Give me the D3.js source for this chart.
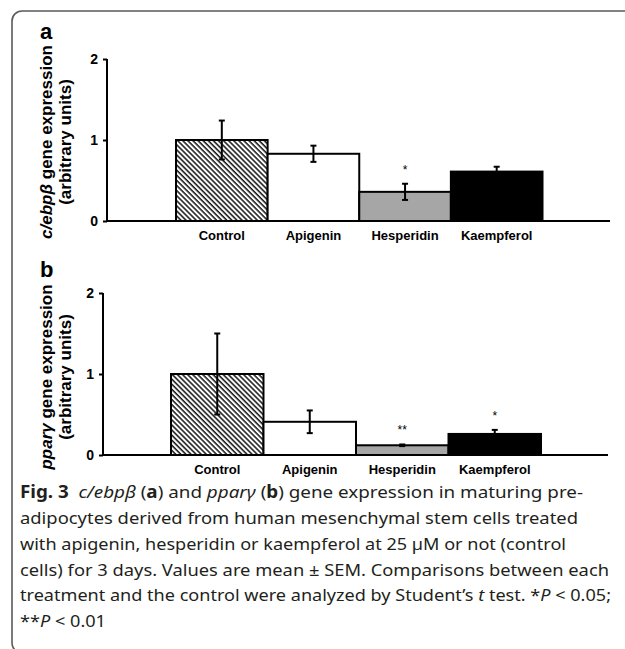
<!DOCTYPE html>
<html>
<head>
<meta charset="utf-8">
<script src="https://cdn.jsdelivr.net/npm/d3@7/dist/d3.min.js"></script>
<style>
  html, body { margin: 0; padding: 0; background: #fff; }
  svg { display: block; }
  .chart-text { font-family: "Liberation Sans", Arial, sans-serif; font-weight: bold; fill: #000; }
  .caption { font-family: "Noto Sans", "Open Sans", sans-serif; fill: #231f20; }
</style>
</head>
<body>
<svg id="fig" width="625" height="649"></svg>
<script>
// Treatments shown on the x axis
const categories = ["Control", "Apigenin", "Hesperidin", "Kaempferol"];

// Panel a: c/ebpβ expression (mean, SEM) and significance marks
const cebpMean = [1.0, 0.83, 0.36, 0.61];
const cebpSem  = [0.24, 0.10, 0.10, 0.06];
const cebpSig  = ["", "", "*", ""];

// Panel b: pparγ expression (mean, SEM) and significance marks
const pparMean = [1.0, 0.41, 0.12, 0.26];
const pparSem  = [0.50, 0.14, 0.01, 0.05];
const pparSig  = ["", "", "**", "*"];

// Y axis ticks
const yTicks = [0, 1, 2];

const svg = d3.select("#fig");

// Frame around the figure
svg.append("rect")
  .attr("x", 12).attr("y", 11)
  .attr("width", 700).attr("height", 642)
  .attr("rx", 10).attr("ry", 10)
  .attr("fill", "none")
  .attr("stroke", "#5a5a5a")
  .attr("stroke-width", 1.6);

// Diagonal hatch for the control bar
const defs = svg.append("defs");
const pat = defs.append("pattern")
  .attr("id", "hatch")
  .attr("patternUnits", "userSpaceOnUse")
  .attr("width", 3.6).attr("height", 3.6)
  .attr("patternTransform", "rotate(-45)");
pat.append("rect").attr("width", 3.6).attr("height", 3.6).attr("fill", "#fff");
pat.append("line")
  .attr("x1", 1).attr("y1", 0).attr("x2", 1).attr("y2", 3.6)
  .attr("stroke", "#000").attr("stroke-width", 1.4);

const fills = ["url(#hatch)", "#ffffff", "#a6a6a6", "#000000"];

function drawPanel(cfg) {
  const { means, sems, sigs, axisX, axisRight, barLeft, barRight, yTop, yBottom,
          letter, letterY, labelMain, labelCenterY } = cfg;

  const x = d3.scaleBand().domain(categories).range([barLeft, barRight]).padding(0);
  const y = d3.scaleLinear().domain([0, 2]).range([yBottom, yTop]);

  const g = svg.append("g");

  // Bars
  g.selectAll("rect.bar")
    .data(categories)
    .join("rect")
    .attr("class", "bar")
    .attr("x", d => x(d))
    .attr("y", (d, i) => y(means[i]))
    .attr("width", x.bandwidth())
    .attr("height", (d, i) => y(0) - y(means[i]))
    .attr("fill", (d, i) => fills[i])
    .attr("stroke", "#000")
    .attr("stroke-width", 2);

  // Error bars
  const cap = 3;
  categories.forEach((c, i) => {
    const cx = x(c) + x.bandwidth() / 2;
    const hi = y(means[i] + sems[i]);
    const lo = y(means[i] - sems[i]);
    g.append("line").attr("x1", cx).attr("x2", cx).attr("y1", hi).attr("y2", lo)
      .attr("stroke", "#000").attr("stroke-width", 2);
    [hi, lo].forEach(yy => {
      g.append("line").attr("x1", cx - cap).attr("x2", cx + cap).attr("y1", yy).attr("y2", yy)
        .attr("stroke", "#000").attr("stroke-width", 2);
    });
    if (sigs[i]) {
      g.append("text")
        .attr("class", "chart-text")
        .attr("x", cx)
        .attr("y", hi - 14)
        .attr("text-anchor", "middle")
        .attr("dominant-baseline", "central")
        .style("font-weight", "normal")
        .style("font-size", "12px")
        .text(sigs[i]);
    }
  });

  // Y axis
  const yAxis = d3.axisLeft(y).tickValues(yTicks).tickFormat(d3.format("d")).tickSize(4).tickPadding(5);
  const ya = g.append("g").attr("transform", `translate(${axisX},0)`).call(yAxis);
  ya.select(".domain").attr("stroke", "#000").attr("stroke-width", 2)
    .attr("d", `M0,${yTop}V${yBottom}`);
  ya.selectAll(".tick line").attr("stroke", "#000").attr("stroke-width", 2);
  ya.selectAll(".tick text")
    .attr("class", "chart-text")
    .style("font-size", "14px");

  // X axis baseline
  g.append("line")
    .attr("x1", axisX).attr("x2", axisRight)
    .attr("y1", y(0)).attr("y2", y(0))
    .attr("stroke", "#000").attr("stroke-width", 2);

  // Category labels
  g.selectAll("text.cat")
    .data(categories)
    .join("text")
    .attr("class", "chart-text cat")
    .attr("x", d => x(d) + x.bandwidth() / 2)
    .attr("y", y(0) + 19)
    .attr("text-anchor", "middle")
    .style("font-size", "13px")
    .text(d => d);

  // Panel letter
  g.append("text")
    .attr("class", "chart-text")
    .attr("x", 40).attr("y", letterY)
    .style("font-size", "22px")
    .text(letter);

  // Y axis title (two lines, rotated)
  const t1 = g.append("text")
    .attr("class", "chart-text")
    .attr("transform", `translate(52,${labelCenterY}) rotate(-90)`)
    .attr("text-anchor", "middle")
    .style("font-size", "17px");
  t1.append("tspan").style("font-style", "italic").text(labelMain);
  t1.append("tspan").text(" gene expression");

  g.append("text")
    .attr("class", "chart-text")
    .attr("transform", `translate(71,${labelCenterY}) rotate(-90)`)
    .attr("text-anchor", "middle")
    .style("font-size", "17px")
    .text("(arbitrary units)");
}

drawPanel({
  means: cebpMean, sems: cebpSem, sigs: cebpSig,
  axisX: 107, axisRight: 610, barLeft: 176, barRight: 542.5,
  yTop: 59, yBottom: 221,
  letter: "a", letterY: 39, labelMain: "c/ebpβ", labelCenterY: 142
});

drawPanel({
  means: pparMean, sems: pparSem, sigs: pparSig,
  axisX: 103, axisRight: 608, barLeft: 171, barRight: 541,
  yTop: 293, yBottom: 455,
  letter: "b", letterY: 277, labelMain: "pparγ", labelCenterY: 377
});

// Figure caption: each line is a list of [text, style] runs
const captionLines = [
  [["Fig. 3", "b"], ["  ", ""], ["c/ebpβ", "i"], [" (", ""], ["a", "b"], [") and ", ""], ["pparγ", "i"], [" (", ""], ["b", "b"], [") gene expression in maturing pre-", ""]],
  [["adipocytes derived from human mesenchymal stem cells treated", ""]],
  [["with apigenin, hesperidin or kaempferol at 25 µM or not (control", ""]],
  [["cells) for 3 days. Values are mean ± SEM. Comparisons between each", ""]],
  [["treatment and the control were analyzed by Student’s ", ""], ["t", "i"], [" test. *", ""], ["P", "i"], [" < 0.05;", ""]],
  [["**", ""], ["P", "i"], [" < 0.01", ""]]
];
const captionWidths = [563, 558, 546, 589, 591, 86];
const captionBaselines = [498, 524, 550, 576, 601, 627];

captionLines.forEach((runs, li) => {
  const t = svg.append("text")
    .attr("class", "caption")
    .attr("x", 20)
    .attr("y", captionBaselines[li])
    .attr("textLength", captionWidths[li])
    .attr("lengthAdjust", "spacingAndGlyphs")
    .style("font-size", "17px")
    .attr("xml:space", "preserve");
  runs.forEach(([txt, st]) => {
    const s = t.append("tspan").text(txt);
    if (st === "b") s.style("font-weight", "bold");
    if (st === "i") s.style("font-style", "italic");
  });
});
</script>
</body>
</html>
